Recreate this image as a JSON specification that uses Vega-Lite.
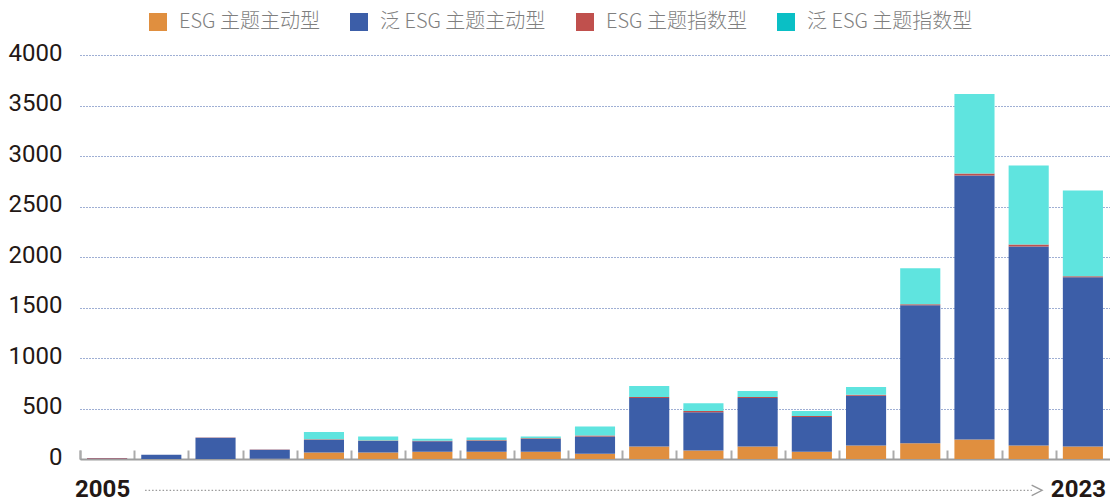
{
  "$schema": "https://vega.github.io/schema/vega-lite/v6.json",
  "autosize": "none",
  "width": 1030,
  "height": 404,
  "padding": {"top": 55, "left": 80, "right": 0, "bottom": 39},
  "background": "white",
  "datasets": {
    "funds": [
      {"year": "2005", "type": "ESG 主题主动型", "k": 1, "value": 0},
      {"year": "2005", "type": "泛 ESG 主题主动型", "k": 2, "value": 6},
      {"year": "2005", "type": "ESG 主题指数型", "k": 3, "value": 3},
      {"year": "2005", "type": "泛 ESG 主题指数型", "k": 4, "value": 0},
      {"year": "2006", "type": "ESG 主题主动型", "k": 1, "value": 0},
      {"year": "2006", "type": "泛 ESG 主题主动型", "k": 2, "value": 43},
      {"year": "2006", "type": "ESG 主题指数型", "k": 3, "value": 0},
      {"year": "2006", "type": "泛 ESG 主题指数型", "k": 4, "value": 0},
      {"year": "2007", "type": "ESG 主题主动型", "k": 1, "value": 0},
      {"year": "2007", "type": "泛 ESG 主题主动型", "k": 2, "value": 210},
      {"year": "2007", "type": "ESG 主题指数型", "k": 3, "value": 3},
      {"year": "2007", "type": "泛 ESG 主题指数型", "k": 4, "value": 0},
      {"year": "2008", "type": "ESG 主题主动型", "k": 1, "value": 3},
      {"year": "2008", "type": "泛 ESG 主题主动型", "k": 2, "value": 88},
      {"year": "2008", "type": "ESG 主题指数型", "k": 3, "value": 3},
      {"year": "2008", "type": "泛 ESG 主题指数型", "k": 4, "value": 0},
      {"year": "2009", "type": "ESG 主题主动型", "k": 1, "value": 65},
      {"year": "2009", "type": "泛 ESG 主题主动型", "k": 2, "value": 125},
      {"year": "2009", "type": "ESG 主题指数型", "k": 3, "value": 5},
      {"year": "2009", "type": "泛 ESG 主题指数型", "k": 4, "value": 72},
      {"year": "2010", "type": "ESG 主题主动型", "k": 1, "value": 65},
      {"year": "2010", "type": "泛 ESG 主题主动型", "k": 2, "value": 113},
      {"year": "2010", "type": "ESG 主题指数型", "k": 3, "value": 5},
      {"year": "2010", "type": "泛 ESG 主题指数型", "k": 4, "value": 40},
      {"year": "2011", "type": "ESG 主题主动型", "k": 1, "value": 73},
      {"year": "2011", "type": "泛 ESG 主题主动型", "k": 2, "value": 102},
      {"year": "2011", "type": "ESG 主题指数型", "k": 3, "value": 6},
      {"year": "2011", "type": "泛 ESG 主题指数型", "k": 4, "value": 20},
      {"year": "2012", "type": "ESG 主题主动型", "k": 1, "value": 73},
      {"year": "2012", "type": "泛 ESG 主题主动型", "k": 2, "value": 104},
      {"year": "2012", "type": "ESG 主题指数型", "k": 3, "value": 8},
      {"year": "2012", "type": "泛 ESG 主题指数型", "k": 4, "value": 28},
      {"year": "2013", "type": "ESG 主题主动型", "k": 1, "value": 73},
      {"year": "2013", "type": "泛 ESG 主题主动型", "k": 2, "value": 124},
      {"year": "2013", "type": "ESG 主题指数型", "k": 3, "value": 8},
      {"year": "2013", "type": "泛 ESG 主题指数型", "k": 4, "value": 18},
      {"year": "2014", "type": "ESG 主题主动型", "k": 1, "value": 53},
      {"year": "2014", "type": "泛 ESG 主题主动型", "k": 2, "value": 170},
      {"year": "2014", "type": "ESG 主题指数型", "k": 3, "value": 10},
      {"year": "2014", "type": "泛 ESG 主题指数型", "k": 4, "value": 90},
      {"year": "2015", "type": "ESG 主题主动型", "k": 1, "value": 123},
      {"year": "2015", "type": "泛 ESG 主题主动型", "k": 2, "value": 480},
      {"year": "2015", "type": "ESG 主题指数型", "k": 3, "value": 12},
      {"year": "2015", "type": "泛 ESG 主题指数型", "k": 4, "value": 108},
      {"year": "2016", "type": "ESG 主题主动型", "k": 1, "value": 83},
      {"year": "2016", "type": "泛 ESG 主题主动型", "k": 2, "value": 380},
      {"year": "2016", "type": "ESG 主题指数型", "k": 3, "value": 12},
      {"year": "2016", "type": "泛 ESG 主题指数型", "k": 4, "value": 78},
      {"year": "2017", "type": "ESG 主题主动型", "k": 1, "value": 123},
      {"year": "2017", "type": "泛 ESG 主题主动型", "k": 2, "value": 480},
      {"year": "2017", "type": "ESG 主题指数型", "k": 3, "value": 12},
      {"year": "2017", "type": "泛 ESG 主题指数型", "k": 4, "value": 58},
      {"year": "2018", "type": "ESG 主题主动型", "k": 1, "value": 73},
      {"year": "2018", "type": "泛 ESG 主题主动型", "k": 2, "value": 344},
      {"year": "2018", "type": "ESG 主题指数型", "k": 3, "value": 8},
      {"year": "2018", "type": "泛 ESG 主题指数型", "k": 4, "value": 50},
      {"year": "2019", "type": "ESG 主题主动型", "k": 1, "value": 133},
      {"year": "2019", "type": "泛 ESG 主题主动型", "k": 2, "value": 494},
      {"year": "2019", "type": "ESG 主题指数型", "k": 3, "value": 10},
      {"year": "2019", "type": "泛 ESG 主题指数型", "k": 4, "value": 76},
      {"year": "2020", "type": "ESG 主题主动型", "k": 1, "value": 157},
      {"year": "2020", "type": "泛 ESG 主题主动型", "k": 2, "value": 1366},
      {"year": "2020", "type": "ESG 主题指数型", "k": 3, "value": 10},
      {"year": "2020", "type": "泛 ESG 主题指数型", "k": 4, "value": 355},
      {"year": "2021", "type": "ESG 主题主动型", "k": 1, "value": 193},
      {"year": "2021", "type": "泛 ESG 主题主动型", "k": 2, "value": 2613},
      {"year": "2021", "type": "ESG 主题指数型", "k": 3, "value": 20},
      {"year": "2021", "type": "泛 ESG 主题指数型", "k": 4, "value": 789},
      {"year": "2022", "type": "ESG 主题主动型", "k": 1, "value": 133},
      {"year": "2022", "type": "泛 ESG 主题主动型", "k": 2, "value": 1972},
      {"year": "2022", "type": "ESG 主题指数型", "k": 3, "value": 20},
      {"year": "2022", "type": "泛 ESG 主题指数型", "k": 4, "value": 780},
      {"year": "2023", "type": "ESG 主题主动型", "k": 1, "value": 123},
      {"year": "2023", "type": "泛 ESG 主题主动型", "k": 2, "value": 1677},
      {"year": "2023", "type": "ESG 主题指数型", "k": 3, "value": 9},
      {"year": "2023", "type": "泛 ESG 主题指数型", "k": 4, "value": 849}
    ],
    "legenditems": [
      {"series": "ESG 主题主动型"},
      {"series": "泛 ESG 主题主动型"},
      {"series": "ESG 主题指数型"},
      {"series": "泛 ESG 主题指数型"}
    ],
    "one": [{"a": 1}]
  },
  "resolve": {"scale": {"color": "independent"}, "legend": {"color": "independent"}},
  "layer": [
    {
      "data": {"name": "funds"},
      "mark": {"type": "bar", "strokeWidth": 0},
      "encoding": {
        "x": {
          "field": "year",
          "type": "ordinal",
          "scale": {"paddingInner": 0.26, "paddingOuter": 0.13},
          "axis": {
            "title": null,
            "labelAngle": 0,
            "labelExpr": "datum.value == '2005' || datum.value == '2023' ? datum.value : ''",
            "labelFont": "Roboto",
            "labelFontSize": 24,
            "labelFontWeight": 700,
            "labelColor": "#231815",
            "labelPadding": 27,
            "bandPosition": 0,
            "tickOffset": -7,
            "tickExtra": true,
            "labelOffset": 2,
            "tickSize": -9,
            "tickColor": "#ababab",
            "tickWidth": 2,
            "domainColor": "#9e9e9e",
            "domainWidth": 2,
            "grid": false
          }
        },
        "y": {
          "field": "value",
          "type": "quantitative",
          "stack": "zero",
          "scale": {"domain": [0, 4000], "nice": false},
          "axis": {
            "title": null,
            "values": [0, 500, 1000, 1500, 2000, 2500, 3000, 3500, 4000],
            "format": "d",
            "grid": true,
            "gridDash": [1, 2],
            "gridColor": "#3f5fa8",
            "gridWidth": 1,
            "domain": false,
            "ticks": false,
            "labelFont": "Roboto",
            "labelFontSize": 24,
            "labelColor": "#231815",
            "labelPadding": 18,
            "labelOffset": -2
          }
        },
        "color": {
          "field": "type",
          "type": "nominal",
          "scale": {
            "domain": ["ESG 主题主动型", "泛 ESG 主题主动型", "ESG 主题指数型", "泛 ESG 主题指数型"],
            "range": ["#e08f3f", "#3c5ea8", "#c0504d", "#5fe4df"]
          },
          "legend": null
        },
        "order": {"field": "k", "type": "quantitative"}
      }
    },
    {
      "data": {"name": "legenditems"},
      "mark": {"type": "square", "opacity": 0},
      "encoding": {
        "color": {
          "field": "series",
          "type": "nominal",
          "scale": {
            "domain": ["ESG 主题主动型", "泛 ESG 主题主动型", "ESG 主题指数型", "泛 ESG 主题指数型"],
            "range": ["#e08f3f", "#3c5ea8", "#c0504d", "#0abfc5"]
          },
          "legend": {
            "title": null,
            "orient": "none",
            "legendX": 68,
            "legendY": -43,
            "direction": "horizontal",
            "symbolType": "square",
            "symbolSize": 324,
            "symbolOpacity": 1,
            "symbolStrokeWidth": 0,
            "labelFont": "Noto Sans CJK SC",
            "labelFontSize": 20,
            "labelFontWeight": 300,
            "labelColor": "#7f7f7f",
            "labelOffset": 11,
            "columnPadding": 29,
            "labelLimit": 400
          }
        }
      }
    },
    {
      "data": {"name": "one"},
      "mark": {"type": "rule", "color": "#9a9a9a", "strokeWidth": 1.3, "strokeDash": [1.5, 2], "xOffset": 38, "x2Offset": -51},
      "encoding": {
        "x": {"datum": "2005", "type": "ordinal"},
        "x2": {"datum": "2023"},
        "y": {"datum": -310, "type": "quantitative"}
      }
    },
    {
      "data": {"name": "one"},
      "mark": {"type": "point", "shape": "M-1,-1L1,0L-1,1", "filled": false, "size": 110, "color": "#9a9a9a", "strokeWidth": 1.3, "xOffset": -46, "opacity": 1},
      "encoding": {
        "x": {"datum": "2023", "type": "ordinal"},
        "y": {"datum": -310, "type": "quantitative"}
      }
    }
  ],
  "config": {
    "view": {"stroke": null}
  }
}
